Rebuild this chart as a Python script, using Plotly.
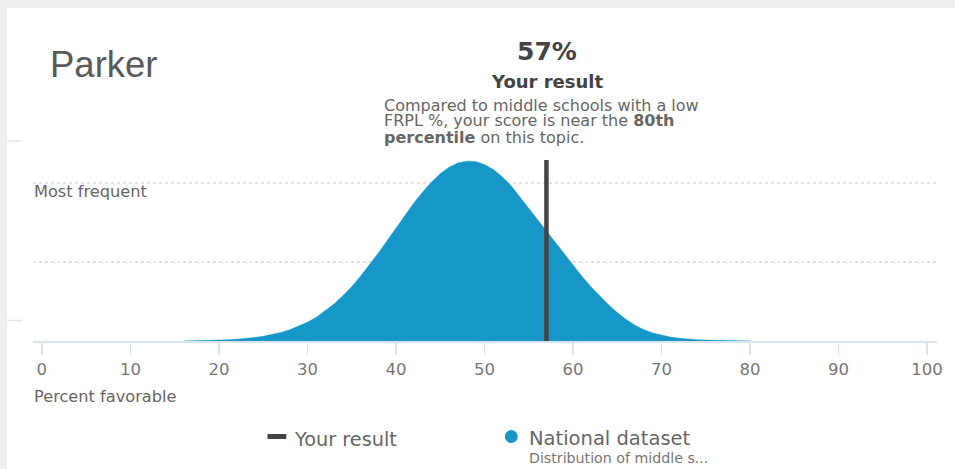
import plotly.graph_objects as go

# ---- data ----
score_pct = list(range(16, 81))
rel_freq = [0.05, 0.1, 0.2, 0.3, 0.45, 0.65, 0.95, 1.35, 1.9, 2.6,          # 16-25
            3.5, 4.7, 6.2, 8.1, 10.4, 13.2, 16.6, 20.5, 25.1, 30.2,          # 26-35
            36.0, 42.2, 48.8, 55.7, 62.8, 69.8, 76.5, 82.7, 88.2, 92.9,      # 36-45
            96.5, 98.9, 99.9, 99.7, 98.0, 95.3, 91.3, 86.3, 80.0, 73.5,      # 46-55
            67.5, 61.5, 55.0, 48.5, 42.3, 36.0, 30.3, 25.0, 20.2, 15.8,      # 56-65
            12.0, 8.8, 6.3, 4.5, 3.2, 2.2, 1.5, 1.0, 0.7, 0.5,               # 66-75
            0.35, 0.25, 0.15, 0.1, 0.05]                                      # 76-80
your_result = 57
your_result_top = 100.6
x_ticks = [0, 10, 20, 30, 40, 50, 60, 70, 80, 90, 100]
grid_levels = [43.9, 87.8]

FONT = "DejaVu Sans"
BLUE = "#1797c8"
DARK = "#444444"
GRAY = "#666666"

fig = go.Figure()
fig.add_trace(go.Scatter(
    x=score_pct, y=rel_freq, mode="lines", line=dict(color=BLUE, width=0.5),
    fill="tozeroy", fillcolor=BLUE, hoverinfo="skip", showlegend=False))
fig.add_trace(go.Scatter(
    x=[your_result, your_result], y=[0, your_result_top], mode="lines",
    line=dict(color=DARK, width=4.5), hoverinfo="skip", showlegend=False))

FIG_W, FIG_H = 955, 469
L, T, W, H = 33, 141, 910, 200
def px(xp):
    return (xp - L) / W
def py(yp):
    return (T + H - yp) / H

fig.update_layout(
    margin=dict(l=L, r=FIG_W - L - W, t=T, b=FIG_H - T - H),
    paper_bgcolor="#eeeeee", plot_bgcolor="rgba(0,0,0,0)",
    font=dict(family=FONT, color=GRAY),
    xaxis=dict(range=[-1, 101.12], tickvals=x_ticks, ticktext=[str(t) for t in x_ticks],
               showgrid=False, zeroline=False, showline=True, linecolor="#d7e5ef", linewidth=2,
               ticks="outside", ticklen=12, tickwidth=1.5, tickcolor="#d7e5ef",
               tickfont=dict(family=FONT, size=16.5, color="#777777"), fixedrange=True),
    yaxis=dict(range=[0, 111.1], tickvals=grid_levels, showticklabels=False, showgrid=True,
               gridcolor="#e4e4e4", griddash="dot", gridwidth=1.2, zeroline=False, fixedrange=True),
)

shapes = [
    dict(type="rect", xref="paper", yref="paper", x0=px(7), x1=px(980), y0=py(8), y1=py(500),
         fillcolor="white", line=dict(width=0), layer="below"),
    dict(type="line", xref="paper", yref="paper", x0=px(7), x1=px(22), y0=py(141), y1=py(141),
         line=dict(color="#e6e6e6", width=1.5)),
    dict(type="line", xref="paper", yref="paper", x0=px(7), x1=px(22), y0=py(320.5), y1=py(320.5),
         line=dict(color="#e6e6e6", width=1.5)),
    # legend keys
    dict(type="rect", xref="paper", yref="paper", x0=px(269), x1=px(288), y0=py(439), y1=py(434),
         fillcolor=DARK, line=dict(width=0)),
    dict(type="circle", xref="paper", yref="paper", x0=px(508), x1=px(521), y0=py(443), y1=py(430),
         fillcolor=BLUE, line=dict(width=0)),
]
fig.update_layout(shapes=shapes)

def ann(text, xp, yp, size, color=GRAY, xanchor="left", family=FONT):
    fig.add_annotation(text=text, xref="paper", yref="paper", x=px(xp), y=py(yp),
                       xanchor=xanchor, yanchor="middle", showarrow=False,
                       font=dict(family=family, size=size, color=color))

ann("Parker", 48, 64, 36.5, color="#595959", family="Liberation Sans")
ann("<b>57%</b>", 550, 52, 25, color="#444444", xanchor="center")
ann("<b>Your result</b>", 550, 81, 18, color="#444444", xanchor="center")
ann("Compared to middle schools with a low", 384, 105, 16)
ann("FRPL %, your score is near the <b>80th</b>", 384, 121, 16)
ann("<b>percentile</b> on this topic.", 384, 137, 16)
ann("Most frequent", 32, 191, 16.2)
ann("Percent favorable", 32, 396, 16.2)
ann("Your result", 294, 439, 19.3)
ann("National dataset", 530, 438, 19.5)
ann("Distribution of middle s...", 530, 458, 14.2, color="#777777")

# The graph div is pinned to the top-left of the window so the default page
# margin cannot push it out of the 955x469 viewport.
fig.write_html(
    "out.html",
    config={"displayModeBar": False, "staticPlot": True},
    default_width=f"{FIG_W}px; position:fixed; top:0px; left:0px",
    default_height=f"{FIG_H}px",
)
